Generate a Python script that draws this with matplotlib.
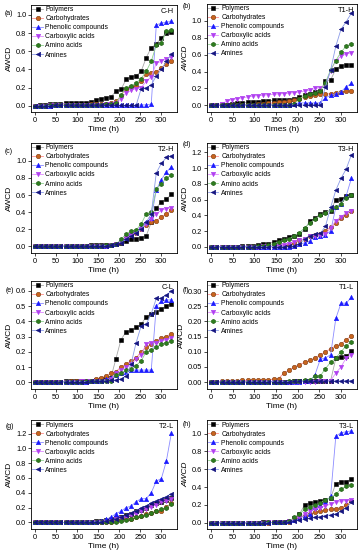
import matplotlib.pyplot as plt

# sampling times (h)
t = [0, 12, 24, 36, 48, 60, 72, 84, 96, 108, 120, 132, 144, 156,
     168, 180, 192, 204, 216, 228, 240, 252, 264, 276, 288, 300, 312, 324]

names = ["Polymers", "Carbohydrates", "Phenolic compounds",
         "Carboxylic acids", "Amino acids", "Amines"]

# (a) C-H
poly_a = [0.0, 0.005, 0.01, 0.015, 0.02, 0.025, 0.03, 0.03, 0.035, 0.035, 0.035, 0.04, 0.065, 0.08,
          0.09, 0.10, 0.16, 0.18, 0.29, 0.32, 0.33, 0.38, 0.53, 0.64, 0.68, 0.75, 0.80, 0.81]
carb_a = [0.0, 0.0, 0.0, 0.005, 0.005, 0.01, 0.01, 0.01, 0.01, 0.01, 0.01, 0.015, 0.015, 0.02,
          0.02, 0.03, 0.05, 0.11, 0.19, 0.21, 0.22, 0.27, 0.35, 0.36, 0.37, 0.42, 0.46, 0.49]
phen_a = [0.0, 0.0, 0.0, 0.0, 0.005, 0.005, 0.005, 0.005, 0.005, 0.005, 0.005, 0.005, 0.005, 0.005,
          0.005, 0.005, 0.005, 0.005, 0.005, 0.005, 0.005, 0.01, 0.01, 0.02, 0.89, 0.91, 0.92, 0.93]
carx_a = [0.0, 0.0, 0.0, 0.005, 0.005, 0.005, 0.005, 0.01, 0.01, 0.01, 0.01, 0.01, 0.01, 0.01,
          0.015, 0.02, 0.03, 0.08, 0.14, 0.17, 0.19, 0.20, 0.27, 0.32, 0.47, 0.49, 0.52, 0.54]
amac_a = [0.0, 0.0, 0.0, 0.005, 0.005, 0.005, 0.01, 0.01, 0.01, 0.01, 0.01, 0.01, 0.01, 0.01,
          0.015, 0.02, 0.03, 0.12, 0.20, 0.22, 0.25, 0.30, 0.38, 0.49, 0.67, 0.69, 0.82, 0.83]
amin_a = [0.0, 0.0, 0.0, 0.0, 0.005, 0.005, 0.005, 0.005, 0.005, 0.005, 0.005, 0.005, 0.005, 0.005,
          0.005, 0.005, 0.005, 0.005, 0.005, 0.005, 0.005, 0.19, 0.20, 0.23, 0.33, 0.40, 0.49, 0.57]

# (b) T1-H
poly_b = [0.0, 0.0, 0.005, 0.01, 0.02, 0.025, 0.03, 0.035, 0.04, 0.045, 0.05, 0.055, 0.06, 0.06,
          0.065, 0.07, 0.08, 0.10, 0.12, 0.14, 0.16, 0.17, 0.29, 0.30, 0.43, 0.47, 0.48, 0.48]
carb_b = [0.0, 0.0, 0.0, 0.0, 0.005, 0.005, 0.01, 0.01, 0.01, 0.015, 0.02, 0.025, 0.03, 0.035,
          0.04, 0.05, 0.06, 0.08, 0.10, 0.11, 0.12, 0.13, 0.13, 0.14, 0.15, 0.16, 0.17, 0.17]
phen_b = [0.0, 0.0, 0.0, 0.0, 0.0, 0.005, 0.005, 0.005, 0.005, 0.005, 0.005, 0.005, 0.005, 0.005,
          0.005, 0.01, 0.02, 0.03, 0.03, 0.03, 0.03, 0.03, 0.09, 0.12, 0.14, 0.16, 0.22, 0.26]
carx_b = [0.0, 0.005, 0.02, 0.05, 0.07, 0.08, 0.09, 0.10, 0.11, 0.115, 0.12, 0.125, 0.13, 0.135,
          0.14, 0.145, 0.15, 0.16, 0.17, 0.18, 0.20, 0.21, 0.23, 0.41, 0.53, 0.58, 0.61, 0.62]
amac_b = [0.0, 0.0, 0.0, 0.0, 0.0, 0.005, 0.005, 0.005, 0.005, 0.005, 0.005, 0.005, 0.005, 0.01,
          0.01, 0.01, 0.02, 0.08, 0.11, 0.13, 0.15, 0.17, 0.27, 0.42, 0.53, 0.63, 0.70, 0.73]
amin_b = [0.0, 0.0, 0.0, 0.0, 0.0, 0.0, 0.0, 0.005, 0.005, 0.005, 0.005, 0.005, 0.005, 0.005,
          0.005, 0.005, 0.005, 0.005, 0.005, 0.005, 0.005, 0.005, 0.22, 0.42, 0.70, 0.90, 0.99, 1.09]

# (c) T2-H
poly_c = [0.0, 0.0, 0.0, 0.0, 0.0, 0.0, 0.0, 0.005, 0.005, 0.005, 0.005, 0.01, 0.01, 0.01,
          0.01, 0.015, 0.02, 0.04, 0.06, 0.08, 0.09, 0.10, 0.12, 0.28, 0.45, 0.52, 0.55, 0.61]
carb_c = [0.0, 0.0, 0.0, 0.0, 0.0, 0.0, 0.0, 0.0, 0.0, 0.0, 0.0, 0.005, 0.005, 0.005,
          0.005, 0.01, 0.02, 0.05, 0.10, 0.13, 0.15, 0.20, 0.25, 0.28, 0.30, 0.34, 0.38, 0.42]
phen_c = [0.0, 0.0, 0.0, 0.0, 0.0, 0.0, 0.0, 0.0, 0.0, 0.0, 0.0, 0.005, 0.005, 0.005,
          0.005, 0.01, 0.02, 0.06, 0.10, 0.15, 0.18, 0.22, 0.28, 0.33, 0.66, 0.78, 0.87, 0.93]
carx_c = [0.0, 0.0, 0.0, 0.0, 0.0, 0.0, 0.0, 0.0, 0.0, 0.0, 0.0, 0.005, 0.005, 0.005,
          0.005, 0.01, 0.02, 0.05, 0.10, 0.13, 0.16, 0.20, 0.26, 0.32, 0.38, 0.42, 0.44, 0.45]
amac_c = [0.0, 0.0, 0.0, 0.0, 0.0, 0.0, 0.0, 0.0, 0.0, 0.0, 0.0, 0.005, 0.005, 0.005,
          0.01, 0.01, 0.02, 0.08, 0.14, 0.18, 0.19, 0.26, 0.38, 0.40, 0.67, 0.73, 0.80, 0.84]
amin_c = [0.0, 0.0, 0.0, 0.0, 0.0, 0.0, 0.0, 0.0, 0.0, 0.0, 0.0, 0.005, 0.005, 0.005,
          0.005, 0.01, 0.02, 0.04, 0.08, 0.12, 0.16, 0.20, 0.28, 0.38, 0.86, 0.97, 1.04, 1.06]

# (d) T3-H
poly_d = [0.0, 0.0, 0.0, 0.0, 0.0, 0.0, 0.005, 0.005, 0.01, 0.02, 0.03, 0.04, 0.06, 0.08,
          0.10, 0.13, 0.14, 0.16, 0.22, 0.33, 0.36, 0.42, 0.44, 0.46, 0.60, 0.61, 0.64, 0.66]
carb_d = [0.0, 0.0, 0.0, 0.0, 0.0, 0.0, 0.0, 0.0, 0.0, 0.0, 0.005, 0.005, 0.005, 0.005,
          0.01, 0.02, 0.05, 0.08, 0.10, 0.14, 0.15, 0.16, 0.20, 0.25, 0.30, 0.36, 0.41, 0.45]
phen_d = [0.0, 0.0, 0.0, 0.0, 0.0, 0.0, 0.0, 0.0, 0.0, 0.0, 0.0, 0.0, 0.0, 0.0,
          0.0, 0.0, 0.005, 0.03, 0.05, 0.07, 0.13, 0.14, 0.15, 0.20, 0.50, 0.55, 0.65, 0.87]
carx_d = [0.0, 0.0, 0.0, 0.0, 0.0, 0.0, 0.0, 0.0, 0.0, 0.0, 0.005, 0.005, 0.01, 0.01,
          0.02, 0.04, 0.06, 0.08, 0.10, 0.14, 0.14, 0.15, 0.16, 0.24, 0.33, 0.38, 0.43, 0.46]
amac_d = [0.0, 0.0, 0.0, 0.0, 0.0, 0.0, 0.0, 0.0, 0.0, 0.005, 0.01, 0.02, 0.04, 0.06,
          0.08, 0.10, 0.14, 0.18, 0.24, 0.30, 0.35, 0.40, 0.43, 0.47, 0.50, 0.55, 0.62, 0.66]
amin_d = [0.0, 0.0, 0.0, 0.0, 0.0, 0.0, 0.0, 0.0, 0.0, 0.0, 0.0, 0.0, 0.0, 0.0,
          0.0, 0.005, 0.01, 0.03, 0.10, 0.14, 0.16, 0.17, 0.26, 0.50, 0.72, 0.87, 0.99, 1.17]

# (e) C-L
poly_e = [0.0, 0.0, 0.002, 0.003, 0.004, 0.005, 0.006, 0.007, 0.008, 0.009, 0.01, 0.01, 0.015, 0.02,
          0.025, 0.03, 0.155, 0.28, 0.33, 0.34, 0.36, 0.38, 0.43, 0.45, 0.46, 0.48, 0.50, 0.515]
carb_e = [0.0, 0.0, 0.0, 0.002, 0.003, 0.004, 0.005, 0.006, 0.007, 0.008, 0.009, 0.01, 0.02, 0.03,
          0.04, 0.06, 0.07, 0.10, 0.12, 0.14, 0.16, 0.20, 0.23, 0.25, 0.27, 0.29, 0.30, 0.32]
phen_e = [0.0, 0.0, 0.0, 0.0, 0.0, 0.002, 0.003, 0.004, 0.005, 0.005, 0.005, 0.006, 0.008, 0.01,
          0.02, 0.03, 0.05, 0.06, 0.07, 0.08, 0.08, 0.08, 0.08, 0.08, 0.50, 0.53, 0.54, 0.54]
carx_e = [0.0, 0.0, 0.0, 0.0, 0.002, 0.003, 0.004, 0.005, 0.005, 0.006, 0.007, 0.008, 0.009, 0.01,
          0.01, 0.02, 0.06, 0.08, 0.10, 0.12, 0.15, 0.18, 0.25, 0.26, 0.26, 0.27, 0.28, 0.29]
amac_e = [0.0, 0.0, 0.0, 0.0, 0.002, 0.003, 0.004, 0.005, 0.005, 0.005, 0.006, 0.007, 0.008, 0.009,
          0.01, 0.01, 0.05, 0.06, 0.08, 0.09, 0.11, 0.14, 0.20, 0.21, 0.23, 0.25, 0.26, 0.27]
amin_e = [0.0, 0.0, 0.0, 0.0, 0.0, 0.002, 0.003, 0.004, 0.005, 0.005, 0.005, 0.006, 0.008, 0.01,
          0.01, 0.015, 0.015, 0.02, 0.04, 0.12, 0.26, 0.37, 0.38, 0.45, 0.55, 0.55, 0.57, 0.60]

# (f) T1-L
poly_f = [0.0, 0.0, 0.0, 0.0, 0.001, 0.001, 0.001, 0.001, 0.001, 0.001, 0.002, 0.002, 0.002, 0.002,
          0.002, 0.002, 0.003, 0.003, 0.003, 0.003, 0.003, 0.003, 0.004, 0.005, 0.078, 0.082, 0.085, 0.102]
carb_f = [0.0, 0.002, 0.003, 0.004, 0.005, 0.005, 0.006, 0.006, 0.007, 0.007, 0.008, 0.008, 0.01, 0.012,
          0.03, 0.04, 0.05, 0.058, 0.065, 0.072, 0.08, 0.09, 0.10, 0.11, 0.12, 0.125, 0.14, 0.152]
phen_f = [0.0, 0.0, 0.0, 0.0, 0.0, 0.001, 0.001, 0.001, 0.001, 0.001, 0.001, 0.001, 0.002, 0.002,
          0.002, 0.002, 0.002, 0.002, 0.003, 0.003, 0.025, 0.075, 0.08, 0.09, 0.21, 0.26, 0.26, 0.28]
carx_f = [0.0, 0.0, 0.0, 0.0, 0.0, 0.0, 0.0, 0.001, 0.001, 0.001, 0.001, 0.001, 0.001, 0.001,
          0.001, 0.001, 0.001, 0.002, 0.002, 0.002, 0.002, 0.003, 0.004, 0.005, 0.03, 0.05, 0.08, 0.09]
amac_f = [0.0, 0.0, 0.0, 0.0, 0.0, 0.0, 0.001, 0.001, 0.001, 0.001, 0.001, 0.001, 0.002, 0.002,
          0.002, 0.003, 0.004, 0.005, 0.006, 0.008, 0.02, 0.02, 0.045, 0.065, 0.08, 0.10, 0.12, 0.133]
amin_f = [0.0, 0.0, 0.0, 0.001, 0.001, 0.001, 0.001, 0.001, 0.002, 0.002, 0.002, 0.002, 0.002, 0.002,
          0.002, 0.002, 0.003, 0.003, 0.003, 0.003, 0.003, 0.003, 0.004, 0.004, 0.004, 0.004, 0.005, 0.005]

# (g) T2-L
poly_g = [0.0, 0.0, 0.0, 0.0, 0.0, 0.0, 0.0, 0.0, 0.005, 0.005, 0.005, 0.01, 0.02, 0.02,
          0.03, 0.04, 0.06, 0.08, 0.10, 0.12, 0.15, 0.17, 0.20, 0.23, 0.26, 0.28, 0.30, 0.33]
carb_g = [0.0, 0.0, 0.0, 0.0, 0.0, 0.0, 0.0, 0.0, 0.0, 0.0, 0.0, 0.0, 0.005, 0.005,
          0.005, 0.01, 0.02, 0.03, 0.04, 0.05, 0.07, 0.09, 0.11, 0.13, 0.15, 0.16, 0.21, 0.26]
phen_g = [0.0, 0.0, 0.0, 0.0, 0.0, 0.0, 0.0, 0.0, 0.005, 0.005, 0.005, 0.01, 0.01, 0.02,
          0.04, 0.07, 0.12, 0.15, 0.20, 0.22, 0.28, 0.32, 0.32, 0.40, 0.56, 0.59, 0.83, 1.21]
carx_g = [0.0, 0.0, 0.0, 0.0, 0.0, 0.0, 0.0, 0.0, 0.0, 0.0, 0.005, 0.005, 0.005, 0.01,
          0.01, 0.02, 0.04, 0.06, 0.08, 0.10, 0.12, 0.15, 0.18, 0.21, 0.24, 0.27, 0.29, 0.31]
amac_g = [0.0, 0.0, 0.0, 0.0, 0.0, 0.0, 0.0, 0.0, 0.0, 0.0, 0.0, 0.0, 0.0, 0.005,
          0.005, 0.005, 0.01, 0.02, 0.03, 0.05, 0.07, 0.09, 0.10, 0.13, 0.15, 0.18, 0.20, 0.25]
amin_g = [0.0, 0.0, 0.0, 0.0, 0.0, 0.0, 0.0, 0.0, 0.005, 0.005, 0.005, 0.01, 0.01, 0.01,
          0.02, 0.03, 0.05, 0.07, 0.10, 0.13, 0.16, 0.20, 0.22, 0.26, 0.29, 0.32, 0.35, 0.39]

# (h) T3-L
poly_h = [0.0, 0.0, 0.0, 0.0, 0.0, 0.0, 0.0, 0.0, 0.0, 0.0, 0.005, 0.005, 0.005, 0.01,
          0.01, 0.02, 0.05, 0.10, 0.20, 0.22, 0.23, 0.24, 0.26, 0.28, 0.44, 0.46, 0.46, 0.49]
carb_h = [0.0, 0.0, 0.0, 0.0, 0.0, 0.0, 0.0, 0.0, 0.0, 0.0, 0.0, 0.0, 0.005, 0.005,
          0.005, 0.01, 0.04, 0.06, 0.08, 0.10, 0.12, 0.13, 0.14, 0.15, 0.16, 0.17, 0.20, 0.24]
phen_h = [0.0, 0.0, 0.0, 0.0, 0.0, 0.0, 0.0, 0.0, 0.0, 0.0, 0.0, 0.005, 0.005, 0.005,
          0.01, 0.02, 0.03, 0.05, 0.08, 0.10, 0.18, 0.20, 0.23, 0.30, 0.97, 1.01, 1.02, 1.03]
carx_h = [0.0, 0.0, 0.0, 0.0, 0.0, 0.0, 0.0, 0.0, 0.0, 0.0, 0.0, 0.005, 0.005, 0.01,
          0.01, 0.02, 0.05, 0.07, 0.10, 0.13, 0.15, 0.17, 0.19, 0.21, 0.23, 0.24, 0.25, 0.26]
amac_h = [0.0, 0.0, 0.0, 0.0, 0.0, 0.0, 0.0, 0.0, 0.0, 0.0, 0.0, 0.005, 0.005, 0.01,
          0.01, 0.02, 0.06, 0.10, 0.15, 0.18, 0.20, 0.22, 0.26, 0.28, 0.32, 0.38, 0.41, 0.42]
amin_h = [0.0, 0.0, 0.0, 0.0, 0.0, 0.0, 0.0, 0.0, 0.0, 0.0, 0.0, 0.0, 0.005, 0.005,
          0.005, 0.01, 0.02, 0.03, 0.04, 0.05, 0.06, 0.07, 0.08, 0.09, 0.10, 0.13, 0.17, 0.23]

markers = ['s', 'o', '^', 'v', 'h', '<']
mcolors = ['#000000', '#c8641e', '#1a1aff', '#b040f0', '#2e7d1e', '#141480']
ecolors = ['#000000', '#7a3a10', '#1a1aff', '#b040f0', '#1f5a14', '#141480']
lcolors = ['#a8a8a8', '#ff8c8c', '#8c8cff', '#e08cff', '#8cd08c', '#8c9ce8']

# label, tag, data, yticks, ylim, xlabel, italic ylabel, axes rect (l, b, w, h), label pos
panels = [
    ("(a)", "C-H", [poly_a, carb_a, phen_a, carx_a, amac_a, amin_a],
     [0.0, 0.2, 0.4, 0.6, 0.8, 1.0], (-0.07, 1.11), "Time (h)", False,
     (0.086, 0.796, 0.404, 0.195), (0.012, 0.975)),
    ("(b)", "T1-H", [poly_b, carb_b, phen_b, carx_b, amac_b, amin_b],
     [0.0, 0.2, 0.4, 0.6, 0.8, 1.0], (-0.08, 1.2), "Times (h)", True,
     (0.573, 0.796, 0.416, 0.197), (0.505, 0.988)),
    ("(c)", "T2-H", [poly_c, carb_c, phen_c, carx_c, amac_c, amin_c],
     [0.0, 0.2, 0.4, 0.6, 0.8, 1.0], (-0.08, 1.21), "Time (h)", False,
     (0.086, 0.540, 0.404, 0.200), (0.012, 0.725)),
    ("(d)", "T3-H", [poly_d, carb_d, phen_d, carx_d, amac_d, amin_d],
     [0.0, 0.2, 0.4, 0.6, 0.8, 1.0, 1.2], (-0.08, 1.32), "Time (h)", False,
     (0.573, 0.540, 0.416, 0.200), (0.505, 0.738)),
    ("(e)", "C-L", [poly_e, carb_e, phen_e, carx_e, amac_e, amin_e],
     [0.0, 0.1, 0.2, 0.3, 0.4, 0.5, 0.6], (-0.043, 0.664), "Time (h)", False,
     (0.086, 0.293, 0.404, 0.196), (0.016, 0.471)),
    ("(f)", "T1-L", [poly_f, carb_f, phen_f, carx_f, amac_f, amin_f],
     [0.0, 0.05, 0.10, 0.15, 0.20, 0.25, 0.30], (-0.022, 0.333), "Time (h)", False,
     (0.573, 0.293, 0.416, 0.196), (0.505, 0.471)),
    ("(g)", "T2-L", [poly_g, carb_g, phen_g, carx_g, amac_g, amin_g],
     [0.0, 0.2, 0.4, 0.6, 0.8, 1.0, 1.2], (-0.09, 1.38), "Time (h)", False,
     (0.086, 0.038, 0.404, 0.198), (0.016, 0.224)),
    ("(h)", "T3-L", [poly_h, carb_h, phen_h, carx_h, amac_h, amin_h],
     [0.0, 0.2, 0.4, 0.6, 0.8, 1.0], (-0.07, 1.15), "Time (h)", True,
     (0.573, 0.038, 0.416, 0.198), (0.505, 0.228)),
]

fig = plt.figure(figsize=(3.61, 5.5), dpi=100)
plt.rcParams['font.family'] = ['Liberation Sans', 'DejaVu Sans']

for label, tag, data, yticks, ylim, xlab, ital, rect, lpos in panels:
    ax = fig.add_axes(rect)
    for k, ys in enumerate(data):
        ax.plot(t, ys, color=lcolors[k], linewidth=0.6, marker=markers[k],
                markersize=3.2, markerfacecolor=mcolors[k],
                markeredgecolor=ecolors[k], markeredgewidth=0.4, label=names[k])
    ax.set_xlim(-10, 337)
    ax.set_ylim(*ylim)
    ax.set_xticks([0, 50, 100, 150, 200, 250, 300])
    ax.set_yticks(yticks)
    if tag == "T1-L":
        ax.set_yticklabels([f"{v:.2f}" for v in yticks])
    else:
        ax.set_yticklabels([f"{v:.1f}" for v in yticks])
    ax.tick_params(labelsize=5.3, length=2, width=0.5, pad=1.5)
    for s in ax.spines.values():
        s.set_linewidth(0.6)
    ax.set_xlabel(xlab, fontsize=6, labelpad=1.5)
    ax.set_ylabel("AWCD", fontsize=6, labelpad=2, style='italic' if ital else 'normal')
    ax.text(0.98, 0.97, tag, transform=ax.transAxes, ha='right', va='top', fontsize=5.3)
    ax.legend(loc='upper left', frameon=False, fontsize=4.9, handlelength=1.5,
              handletextpad=0.4, labelspacing=0.3, borderaxespad=0.1, borderpad=0.1)
    fig.text(lpos[0], lpos[1], label, fontsize=5, ha='left', va='center')

fig.savefig("out.png", dpi=100)
